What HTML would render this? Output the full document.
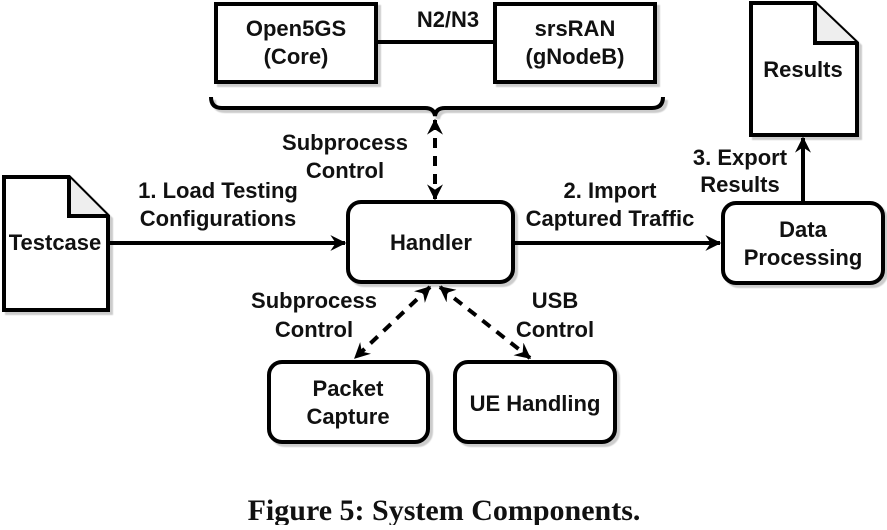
<!DOCTYPE html>
<html><head><style>
html,body{margin:0;padding:0;background:#fff;}
svg text{font-family:"Liberation Sans",Arial,sans-serif;font-weight:bold;font-size:22px;fill:#111;text-anchor:middle;}
</style></head><body>
<svg width="887" height="525" viewBox="0 0 887 525" xmlns="http://www.w3.org/2000/svg">
<defs>
<marker id="a" viewBox="0 0 12 12" refX="11" refY="6" markerWidth="16" markerHeight="16" markerUnits="userSpaceOnUse" orient="auto-start-reverse">
<path d="M0,0 L12,6 L0,12 L4,6 Z" fill="#000"/>
</marker>
<filter id="s" x="-5%" y="-5%" width="115%" height="115%"><feDropShadow dx="3" dy="3" stdDeviation="0.5" flood-color="#000" flood-opacity="0.2"/></filter>
</defs>
<g stroke="#000" stroke-width="4" fill="#fff" filter="url(#s)">
<rect x="216" y="4" width="160" height="78"/>
<rect x="495" y="4" width="160" height="78"/>
<path d="M211,97 Q211,108 222,108 L425,108 Q434,108 435,116 Q436,108 445,108 L652,108 Q663,108 663,97" fill="none"/>
<path d="M4,177 L69,177 L108,216 L108,310 L4,310 Z"/>
<path d="M69,177 L69,216 L108,216" fill="#eee"/>
<path d="M751,3 L815,3 L857,43 L857,135 L751,135 Z"/>
<path d="M815,3 L815,43 L857,43" fill="#eee"/>
<rect x="348" y="202" width="165" height="80" rx="13"/>
<rect x="723" y="203" width="160" height="80" rx="13"/>
<rect x="269" y="362" width="159" height="80" rx="13"/>
<rect x="455" y="362" width="160" height="80" rx="13"/>
</g>
<g stroke="#000" stroke-width="4" fill="none">
<line x1="376" y1="42" x2="495" y2="42"/>
<line x1="108" y1="243" x2="345" y2="243" marker-end="url(#a)"/>
<line x1="513" y1="243" x2="720" y2="243" marker-end="url(#a)"/>
<line x1="803" y1="203" x2="803" y2="138" marker-end="url(#a)"/>
<line x1="435" y1="120" x2="435" y2="199" stroke-dasharray="10,8" marker-start="url(#a)" marker-end="url(#a)"/>
<line x1="430" y1="287" x2="355" y2="358" stroke-dasharray="10,8" marker-start="url(#a)" marker-end="url(#a)"/>
<line x1="440" y1="287" x2="530" y2="358" stroke-dasharray="10,8" marker-start="url(#a)" marker-end="url(#a)"/>
</g>
<text x="296" y="36">Open5GS</text><text x="296" y="64">(Core)</text>
<text x="575" y="36">srsRAN</text><text x="575" y="64">(gNodeB)</text>
<text x="448" y="27">N2/N3</text>
<text x="345" y="150">Subprocess</text><text x="345" y="178">Control</text>
<text x="55" y="250">Testcase</text>
<text x="218" y="198">1. Load Testing</text><text x="218" y="226">Configurations</text>
<text x="610" y="198">2. Import</text><text x="610" y="226">Captured Traffic</text>
<text x="431" y="250">Handler</text>
<text x="740" y="165">3. Export</text><text x="740" y="192">Results</text>
<text x="803" y="77">Results</text>
<text x="803" y="237">Data</text><text x="803" y="265">Processing</text>
<text x="314" y="308">Subprocess</text><text x="314" y="337">Control</text>
<text x="555" y="308">USB</text><text x="555" y="337">Control</text>
<text x="348" y="396">Packet</text><text x="348" y="424">Capture</text>
<text x="535" y="411">UE Handling</text>
<text x="444" y="520" style="font-family:'Liberation Serif',serif;font-size:30px;">Figure 5: System Components.</text>
</svg>
</body></html>
